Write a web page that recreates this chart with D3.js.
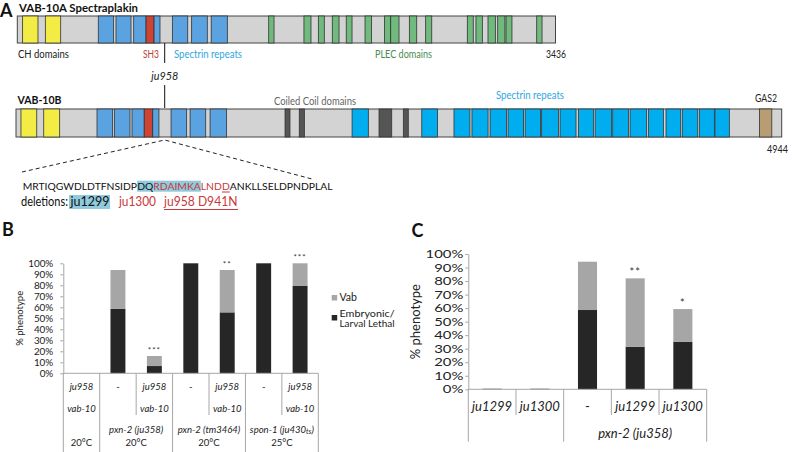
<!DOCTYPE html>
<html>
<head>
<meta charset="utf-8">
<script src="https://cdn.jsdelivr.net/npm/d3@7/dist/d3.min.js"></script>
<style>
  body { margin: 0; background: #fff; }
  svg { font-family: Lato, 'Open Sans', sans-serif; }
</style>
</head>
<body>
<svg id="fig" width="792" height="452"></svg>
<script>
// ---- panel A: domain maps (residue positions, estimated from the figure)
const vab10aLength = 3436;
const vab10bLength = 4944;
const mutationSite = 941; // ju958 D941N

const vab10aDomains = [
  [34, 132, 'ch'], [179, 277, 'ch'],
  [517, 615, 'spec'], [630, 726, 'spec'], [743, 822, 'spec'], [822, 873, 'sh3'], [873, 911, 'spec'],
  [990, 1088, 'spec'], [1113, 1213, 'spec'], [1238, 1341, 'spec'],
  [1605, 1639, 'plec'], [1830, 1875, 'plec'], [1922, 1960, 'plec'], [2011, 2054, 'plec'],
  [2100, 2137, 'plec'], [2220, 2262, 'plec'], [2345, 2384, 'plec'], [2384, 2437, 'plec'],
  [2503, 2550, 'plec'], [2607, 2646, 'plec'], [2873, 2911, 'plec'], [2928, 2969, 'plec'],
  [3005, 3052, 'plec'], [3067, 3113, 'plec'], [3120, 3158, 'plec'], [3316, 3350, 'plec']
];

const vab10bDomains = [
  [32, 134, 'ch'], [179, 282, 'ch'],
  [523, 624, 'spec'], [635, 736, 'spec'], [749, 828, 'spec'], [828, 883, 'sh3'], [883, 923, 'spec'],
  [1001, 1102, 'spec'], [1124, 1225, 'spec'], [1253, 1360, 'spec'],
  [1737, 1769, 'cc'], [1829, 1862, 'cc'], [2344, 2426, 'cc'], [2501, 2533, 'cc'],
  [2170, 2275, 'spec2'], [2620, 2722, 'spec2'], [2828, 2931, 'spec2'], [2944, 3048, 'spec2'],
  [3061, 3168, 'spec2'], [3177, 3277, 'spec2'], [3287, 3387, 'spec2'], [3394, 3502, 'spec2'],
  [3513, 3616, 'spec2'], [3631, 3728, 'spec2'], [3739, 3846, 'spec2'], [3853, 3954, 'spec2'],
  [3965, 4072, 'spec2'], [4083, 4180, 'spec2'], [4197, 4292, 'spec2'], [4302, 4402, 'spec2'],
  [4412, 4509, 'spec2'], [4513, 4606, 'spec2'],
  [4800, 4880, 'gas2']
];

const seqParts = [
  { s: 'MRTIQGWDLDTFNSIDP', red: false, hl: false },
  { s: 'DQ', red: false, hl: true },
  { s: 'RDAIMKA', red: true, hl: true },
  { s: 'LND', red: true, hl: false },
  { s: 'D', red: true, hl: false, ul: true },
  { s: 'ANKLLSELDPNDPLAL', red: false, hl: false }
];

// ---- panel B
const bRow1 = ['ju958', '-', 'ju958', '-', 'ju958', '-', 'ju958'];
const bRow2 = ['vab-10', '', 'vab-10', '', 'vab-10', '', 'vab-10'];
const bLethal = [0, 58.5, 6.6, 100, 55.4, 100, 79.4];
const bVab = [0, 35.4, 9.1, 0, 38.5, 0, 20.6];
const bStars = ['', '', '***', '', '**', '', '***'];
const bGroups = [
  { label: '', sub: '', temp: '20°C', span: 1 },
  { label: 'pxn-2 (ju358)', sub: '', temp: '20°C', span: 2 },
  { label: 'pxn-2 (tm3464)', sub: '', temp: '20°C', span: 2 },
  { label: 'spon-1 (ju430', sub: 'ts', tail: ')', temp: '25°C', span: 2 }
];
const yTicks = d3.range(0, 101, 10);

// ---- panel C
const cRow1 = ['ju1299', 'ju1300', '-', 'ju1299', 'ju1300'];
const cLethal = [0.4, 0.4, 58.6, 31.5, 35.2];
const cVab = [0, 0, 35.7, 50.5, 24.1];
const cStars = ['', '', '', '**', '*'];
const cGroups = [
  { label: '', span: 2 },
  { label: 'pxn-2 (ju358)', span: 3 }
];

const colors = {
  ch: '#f3ec45', spec: '#5aa2e0', sh3: '#cf4334', plec: '#6fba7c',
  spec2: '#00aeef', cc: '#555555', gas2: '#b99d72', bg: '#d3d3d3'
};
const red = '#c9383a';
const hlColor = '#8fcbdc';
const lethalColor = '#262626';
const vabColor = '#a6a6a6';
const gridColor = '#a6a6a6';

const svg = d3.select('#fig');

function txt(g, s, x, y, o = {}) {
  const t = g.append('text')
    .attr('x', x).attr('y', y)
    .attr('font-size', o.size || 11)
    .attr('fill', o.color || '#222')
    .attr('text-anchor', o.anchor || 'start')
    .text(s);
  if (o.bold) t.attr('font-weight', 'bold');
  if (o.italic) t.attr('font-style', 'italic');
  if (o.width) t.attr('textLength', o.width).attr('lengthAdjust', 'spacingAndGlyphs');
  return t;
}

// ================= Panel A =================
const gA = svg.append('g');
txt(gA, 'A', 0, 16.5, { size: 18, bold: true, color: '#111' });

function domainMap(domains, len, x0, x1, y, h) {
  const x = d3.scaleLinear().domain([0, len]).range([x0, x1]);
  const g = gA.append('g');
  g.append('rect')
    .attr('x', x(0)).attr('y', y).attr('width', x(len) - x(0)).attr('height', h)
    .attr('fill', colors.bg).attr('stroke', '#444').attr('stroke-width', 1);
  g.selectAll('rect.dom')
    .data(domains)
    .enter()
    .append('rect')
    .attr('class', 'dom')
    .attr('x', d => x(d[0]))
    .attr('y', y)
    .attr('width', d => x(d[1]) - x(d[0]))
    .attr('height', h)
    .attr('fill', d => colors[d[2]])
    .attr('stroke', '#333')
    .attr('stroke-width', 0.8);
  return x;
}

const xA = domainMap(vab10aDomains, vab10aLength, 17.3, 555.5, 16, 27);
domainMap(vab10bDomains, vab10bLength, 16, 781.7, 109, 28);

txt(gA, 'VAB-10A  Spectraplakin', 19, 12, { size: 12, bold: true, width: 119, color: '#111' });
txt(gA, 'CH domains', 18, 58, { width: 51 });
txt(gA, 'SH3', 143, 58, { width: 16, color: '#b8433a' });
txt(gA, 'Spectrin repeats', 174, 58, { width: 68, color: '#2fa6dc' });
txt(gA, 'PLEC domains', 375, 58, { width: 57, color: '#4a8a50' });
txt(gA, String(vab10aLength), 546, 58, { width: 20 });

const mx = xA(mutationSite);
gA.append('line').attr('x1', mx).attr('x2', mx).attr('y1', 43).attr('y2', 63)
  .attr('stroke', '#111').attr('stroke-width', 1);
txt(gA, 'ju958', mx, 80, { size: 12, italic: true, anchor: 'middle', width: 27 });
gA.append('line').attr('x1', mx).attr('x2', mx).attr('y1', 85).attr('y2', 108)
  .attr('stroke', '#111').attr('stroke-width', 1);

txt(gA, 'VAB-10B', 17.5, 104, { size: 12, bold: true, width: 44, color: '#111' });
txt(gA, 'Coiled Coil domains', 274, 105, { width: 82, color: '#666' });
txt(gA, 'Spectrin repeats', 496, 99, { width: 68, color: '#2fa6dc' });
txt(gA, 'GAS2', 755, 102, { width: 22 });
txt(gA, String(vab10bLength), 767, 153, { width: 21 });

// sequence line: one text per coloured segment, laid end to end,
// font size chosen so the whole line spans seqW
const seqG = gA.append('g');
const seqX0 = 22.7;
const seqW = 310;
const seqTexts = seqParts.map(p => txt(seqG, p.s, 0, 190, { size: 12, color: p.red ? red : '#111' }));
const natural = seqTexts.map(t => t.node().getComputedTextLength());
const k = seqW / d3.sum(natural);
let cursor = seqX0;
seqParts.forEach((p, i) => {
  const w = natural[i] * k;
  seqTexts[i].attr('x', cursor).attr('font-size', 12 * k);
  if (p.hl) {
    seqG.insert('rect', 'text')
      .attr('x', cursor).attr('y', 180.7).attr('width', w).attr('height', 11)
      .attr('fill', hlColor);
  }
  if (p.ul) {
    seqG.append('line').attr('x1', cursor).attr('x2', cursor + w).attr('y1', 192).attr('y2', 192)
      .attr('stroke', red).attr('stroke-width', 1);
  }
  cursor += w;
});

// dashed zoom lines from the VAB-10B bar to the sequence
gA.append('path')
  .attr('d', `M22,172 L${mx},140 L312,179`)
  .attr('fill', 'none').attr('stroke', '#222').attr('stroke-width', 1)
  .attr('stroke-dasharray', '4,3');

// deletions line
gA.append('rect').attr('x', 69).attr('y', 195).attr('width', 41).attr('height', 14).attr('fill', hlColor);
txt(gA, 'deletions:', 21, 206, { size: 12.5, width: 47, color: '#111' });
txt(gA, 'ju1299', 70.5, 206, { size: 13, width: 39, color: '#111' });
txt(gA, 'ju1300', 119, 206, { size: 13, width: 37, color: red });
txt(gA, 'ju958 D941N', 164, 206, { size: 13, width: 73.5, color: red });
gA.append('line').attr('x1', 164).attr('x2', 238).attr('y1', 209.5).attr('y2', 209.5)
  .attr('stroke', red).attr('stroke-width', 1);

// ================= stacked bar panel helper =================
function barPanel(opt) {
  const g = svg.append('g');
  const n = opt.lethal.length;
  const y = d3.scaleLinear().domain([0, 100]).range([opt.y0, opt.y1]);
  const x = d3.scaleBand().domain(d3.range(n)).range([opt.x0, opt.x1]);
  const bw = x.bandwidth() * opt.barFrac;

  const ax = g.append('g')
    .attr('transform', `translate(${opt.x0},0)`)
    .call(d3.axisLeft(y).tickValues(yTicks).tickFormat(d => d + '%')
      .tickSize(opt.tick).tickSizeOuter(0).tickPadding(opt.pad));
  ax.select('.domain').attr('stroke', gridColor);
  ax.selectAll('.tick line').attr('stroke', gridColor);
  ax.selectAll('.tick text').attr('font-family', 'Lato, sans-serif')
    .attr('font-size', opt.tickFont).attr('fill', '#222')
    .each(function () {
      if (opt.tickStretch) {
        const w = this.getComputedTextLength() * opt.tickStretch;
        d3.select(this).attr('textLength', w).attr('lengthAdjust', 'spacingAndGlyphs');
      }
    });

  txt(g, '% phenotype', 0, 0, { size: opt.titleFont, anchor: 'middle' })
    .attr('transform', `translate(${opt.titleX},${(opt.y0 + opt.y1) / 2}) rotate(-90)`);

  const cols = d3.range(n);
  g.selectAll('rect.leth')
    .data(cols)
    .enter()
    .append('rect')
    .attr('class', 'leth')
    .attr('x', i => x(i) + (x.bandwidth() - bw) / 2)
    .attr('width', bw)
    .attr('y', i => y(opt.lethal[i]))
    .attr('height', i => y(0) - y(opt.lethal[i]))
    .attr('fill', lethalColor);
  g.selectAll('rect.vab')
    .data(cols)
    .enter()
    .append('rect')
    .attr('class', 'vab')
    .attr('x', i => x(i) + (x.bandwidth() - bw) / 2)
    .attr('width', bw)
    .attr('y', i => y(opt.lethal[i] + opt.vab[i]))
    .attr('height', i => y(opt.lethal[i]) - y(opt.lethal[i] + opt.vab[i]))
    .attr('fill', vabColor);
  g.selectAll('text.star')
    .data(cols.filter(i => opt.stars[i]))
    .enter()
    .append('text')
    .attr('class', 'star')
    .attr('x', i => x(i) + x.bandwidth() / 2)
    .attr('y', i => y(opt.lethal[i] + opt.vab[i]) - opt.starGap)
    .attr('text-anchor', 'middle')
    .attr('font-size', opt.starFont)
    .attr('letter-spacing', 1)
    .attr('fill', '#333')
    .text(i => opt.stars[i]);

  // x axis line and table
  g.append('line').attr('x1', opt.x0).attr('x2', opt.x1).attr('y1', y(0)).attr('y2', y(0))
    .attr('stroke', gridColor);
  let start = 0;
  const bounds = [{ at: 0, full: true }];
  opt.groups.forEach((gr) => {
    for (let j = 1; j < gr.span; j++) bounds.push({ at: start + j, full: false });
    start += gr.span;
    bounds.push({ at: start, full: true });
  });
  g.selectAll('line.sep')
    .data(bounds)
    .enter()
    .append('line')
    .attr('class', 'sep')
    .attr('x1', d => (d.at < n ? x(d.at) : opt.x1))
    .attr('x2', d => (d.at < n ? x(d.at) : opt.x1))
    .attr('y1', y(0))
    .attr('y2', d => (d.full ? opt.fullEnd : opt.shortEnd))
    .attr('stroke', gridColor);

  g.selectAll('text.r1')
    .data(cols)
    .enter()
    .append('text')
    .attr('class', 'r1')
    .attr('x', i => x(i) + x.bandwidth() / 2)
    .attr('y', opt.row1Y)
    .attr('text-anchor', 'middle')
    .attr('font-size', opt.tableFont)
    .attr('font-style', i => (opt.row1[i] === '-' ? null : 'italic'))
    .attr('fill', '#222')
    .text(i => opt.row1[i]);
  if (opt.row2) {
    g.selectAll('text.r2')
      .data(cols.filter(i => opt.row2[i]))
      .enter()
      .append('text')
      .attr('class', 'r2')
      .attr('x', i => x(i) + x.bandwidth() / 2)
      .attr('y', opt.row2Y)
      .attr('text-anchor', 'middle')
      .attr('font-size', opt.tableFont)
      .attr('font-style', 'italic')
      .attr('fill', '#222')
      .text(i => opt.row2[i]);
  }
  start = 0;
  opt.groups.forEach((gr) => {
    const cx = (x(start) + (start + gr.span < n ? x(start + gr.span) : opt.x1)) / 2;
    start += gr.span;
    if (gr.label) {
      const t = g.append('text').attr('x', cx).attr('y', opt.row3Y)
        .attr('text-anchor', 'middle').attr('font-size', opt.tableFont)
        .attr('font-style', 'italic').attr('fill', '#222');
      t.append('tspan').text(gr.label);
      if (gr.sub) {
        t.append('tspan').attr('font-size', opt.tableFont * 0.75).attr('dy', 1).text(gr.sub);
        t.append('tspan').attr('dy', -1).text(gr.tail);
      }
    }
    if (gr.temp) {
      txt(g, gr.temp, cx, opt.row4Y, { size: opt.tableFont, anchor: 'middle' });
    }
  });
  return g;
}

// ================= Panel B =================
txt(svg, 'B', 2, 236, { size: 18, bold: true, color: '#111' });
barPanel({
  lethal: bLethal, vab: bVab, stars: bStars, row1: bRow1, row2: bRow2, groups: bGroups,
  x0: 63.3, x1: 318.3, y0: 373.3, y1: 263.3, barFrac: 0.41,
  tick: 3, pad: 7, tickFont: 9, tickStretch: 1.1, titleFont: 9.5, titleX: 23,
  starFont: 8, starGap: 3,
  row1Y: 390, row2Y: 411.5, row3Y: 432.5, row4Y: 445.5, shortEnd: 415, fullEnd: 452,
  tableFont: 9.5
});

// legend
const lg = svg.append('g');
lg.append('rect').attr('x', 331.7).attr('y', 295).attr('width', 5.5).attr('height', 5.5).attr('fill', vabColor);
txt(lg, 'Vab', 339.5, 301, { size: 10.5 });
lg.append('rect').attr('x', 331.7).attr('y', 315).attr('width', 5.5).attr('height', 5.5).attr('fill', lethalColor);
txt(lg, 'Embryonic/', 339.5, 316.5, { size: 8.5, width: 55 });
txt(lg, 'Larval Lethal', 339.5, 327, { size: 8.5, width: 55 });

// ================= Panel C =================
txt(svg, 'C', 411.5, 237, { size: 18, bold: true, color: '#111' });
barPanel({
  lethal: cLethal, vab: cVab, stars: cStars, row1: cRow1, row2: null, groups: cGroups,
  x0: 468.3, x1: 706.7, y0: 389.3, y1: 254, barFrac: 0.4,
  tick: 3, pad: 2, tickFont: 11, tickStretch: 1.35, titleFont: 13, titleX: 419.5,
  starFont: 11, starGap: 2,
  row1Y: 411, row3Y: 438, shortEnd: 415, fullEnd: 441.7,
  tableFont: 13
});
</script>
</body>
</html>
